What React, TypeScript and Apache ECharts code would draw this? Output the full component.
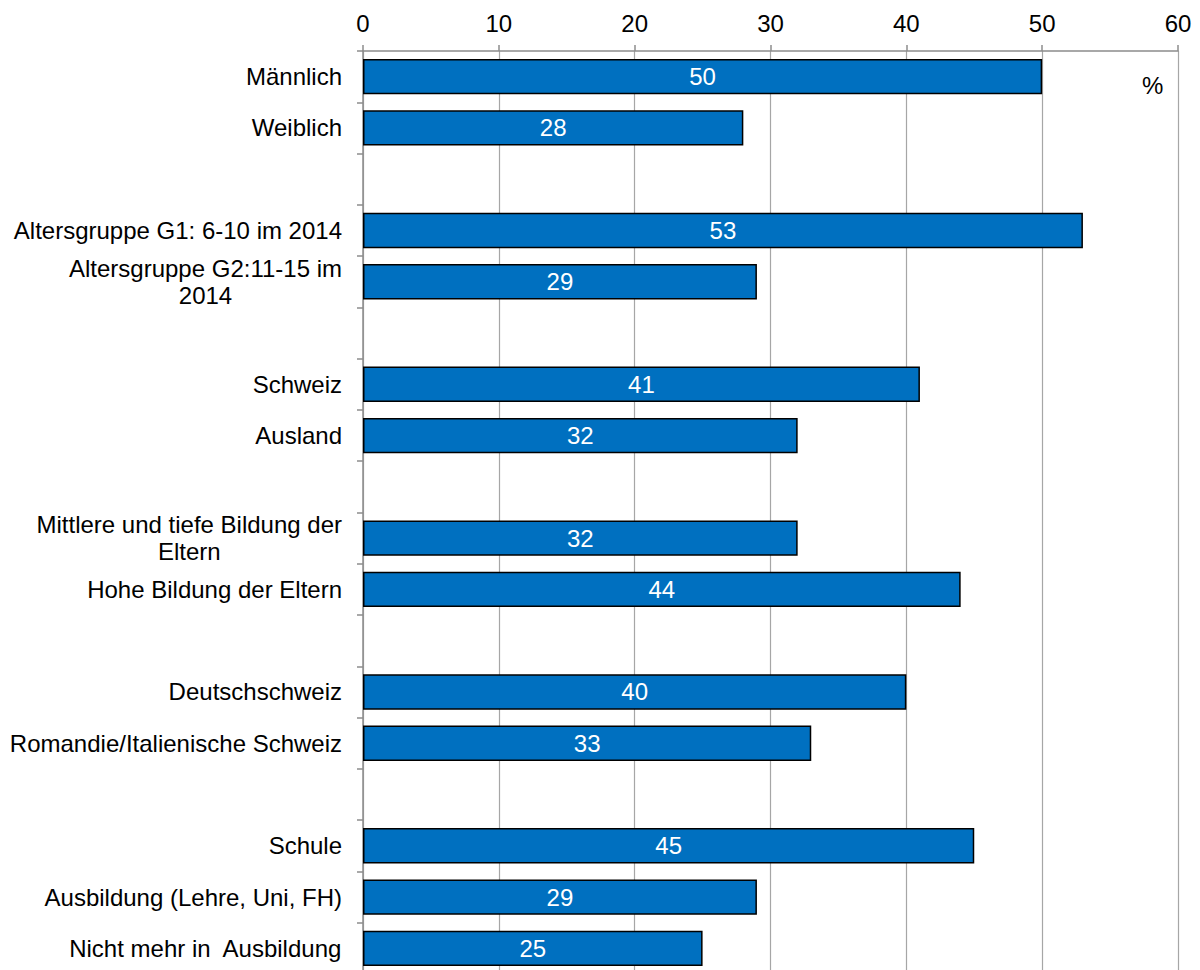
import React, { useEffect, useRef } from "react";
import * as echarts from "echarts";

// Groups separated by empty rows; "" marks a spacer row
const categories: string[] = [
  "Männlich",
  "Weiblich",
  "",
  "Altersgruppe G1: 6-10 im 2014",
  "Altersgruppe G2:11-15 im\n2014",
  "",
  "Schweiz",
  "Ausland",
  "",
  "Mittlere und tiefe Bildung der\nEltern",
  "Hohe Bildung der Eltern",
  "",
  "Deutschschweiz",
  "Romandie/Italienische Schweiz",
  "",
  "Schule",
  "Ausbildung (Lehre, Uni, FH)",
  "Nicht mehr in  Ausbildung",
];

const values: (number | null)[] = [
  50, 28, null,
  53, 29, null,
  41, 32, null,
  32, 44, null,
  40, 33, null,
  45, 29, 25,
];

const xMin = 0;
const xMax = 60;
const xStep = 10;
const unitLabel = "%";

const FONT = "'Liberation Sans', Arial, Helvetica, sans-serif";
const FS = 24;

export default function App() {
  const ref = useRef<HTMLDivElement>(null);

  useEffect(() => {
    if (!ref.current) return;
    const chart = echarts.init(ref.current, null, { renderer: "svg" });
    chart.setOption({
      animation: false,
      backgroundColor: "#ffffff",
      textStyle: { fontFamily: FONT },
      // the plot runs slightly past the visible frame at the bottom
      grid: { left: 363, right: 22, top: 51, bottom: 6, containLabel: false },
      xAxis: {
        type: "value",
        position: "top",
        min: xMin,
        max: xMax,
        interval: xStep,
        axisLine: { show: true, lineStyle: { color: "#8c8c8c", width: 1.5 } },
        axisTick: { show: true, length: 6, lineStyle: { color: "#8c8c8c", width: 1.5 } },
        axisLabel: { color: "#000", fontSize: FS, fontFamily: FONT, margin: 16 },
        splitLine: { show: true, lineStyle: { color: "#a6a6a6", width: 1.2 } },
      },
      yAxis: {
        type: "category",
        inverse: true,
        data: categories,
        axisLine: { show: true, lineStyle: { color: "#8c8c8c", width: 1.5 } },
        axisTick: { show: true, length: 6, alignWithLabel: false, lineStyle: { color: "#8c8c8c", width: 1.5 } },
        axisLabel: {
          interval: 0,
          margin: 21,
          formatter: (v: string) => (v ? `{c|${v}}` : ""),
          rich: {
            c: {
              align: "center",
              color: "#000",
              fontSize: FS,
              fontFamily: FONT,
              lineHeight: 27,
            },
          },
        },
        splitLine: { show: false },
      },
      series: [
        {
          type: "bar",
          data: values,
          barCategoryGap: "31%",
          itemStyle: { color: "#0070c0", borderColor: "#000", borderWidth: 1.5 },
          label: {
            show: true,
            position: "inside",
            color: "#ffffff",
            fontSize: FS,
            fontFamily: FONT,
          },
        },
      ],
      graphic: [
        {
          type: "text",
          left: 1142,
          top: 73,
          style: { text: unitLabel, fontSize: FS, fontFamily: FONT, fill: "#000" },
        },
      ],
    });
    return () => chart.dispose();
  }, []);

  return (
    <div
      style={{
        position: "fixed",
        left: 0,
        top: 0,
        width: 1200,
        height: 970,
        overflow: "hidden",
        background: "#fff",
      }}
    >
      <div ref={ref} style={{ width: 1200, height: 980 }} />
    </div>
  );
}
